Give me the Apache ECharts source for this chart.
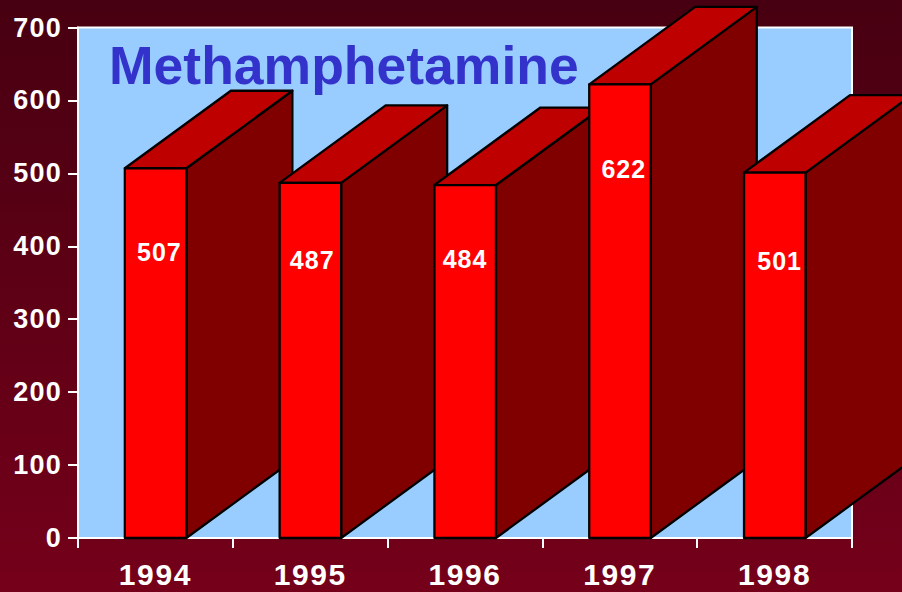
<!DOCTYPE html>
<html><head><meta charset="utf-8">
<style>
html,body{margin:0;padding:0;background:#5a0014}
#c{width:902px;height:592px;letter-spacing:1px}
#c text[style*="30px"]{letter-spacing:1.6px}
#c text[style*="27px"]{letter-spacing:1.2px}
#c text[style*="25px"]{letter-spacing:1px}
#c text[style*="53.5px"]{letter-spacing:0}
</style>
<script src="https://cdn.jsdelivr.net/npm/echarts@6/dist/echarts.min.js"></script>
</head><body><div id="c"></div>
<script>
const titleText = 'Methamphetamine';
const categories = ['1994','1995','1996','1997','1998'];
const values = [507,487,484,622,501];
const yTicks = [0,100,200,300,400,500,600,700];

// style / layout constants
const DEPTH_X = 106, DEPTH_Y = 77.5, BAR_RATIO = 0.4;
const labelShift = [[4,84],[2,77],[0,74],[4,85],[5,88]];
const FONT = '"Liberation Sans", Arial, sans-serif';

const chart = echarts.init(document.getElementById('c'), null, {renderer:'svg', width:902, height:592});

function renderBar(params, api){
  const i = api.value(0), v = api.value(1);
  const top = api.coord([i, v]), base = api.coord([i, 0]);
  const w = api.size([1,0])[0]*BAR_RATIO;
  const l = top[0]-w/2+0.4, r = top[0]+w/2, t = top[1], b = base[1];
  const line = {stroke:'#000', lineWidth:2.3, lineJoin:'round'};
  const shift = labelShift[params.dataIndex];
  return {type:'group', children:[
    {type:'polygon', shape:{points:[[r,b],[r+DEPTH_X,b-DEPTH_Y],[r+DEPTH_X,t-DEPTH_Y],[r,t]]},
      style:Object.assign({fill:'#800000'},line)},
    {type:'polygon', shape:{points:[[l,t],[l+DEPTH_X,t-DEPTH_Y],[r+DEPTH_X,t-DEPTH_Y],[r,t]]},
      style:Object.assign({fill:'#bf0000'},line)},
    {type:'rect', shape:{x:l,y:t,width:r-l,height:b-t},
      style:Object.assign({fill:'#ff0000'},line)},
    {type:'text', style:{text:String(v), x:top[0]+shift[0], y:t+shift[1],
      fill:'#fff', font:'bold 25px '+FONT, textAlign:'center', textVerticalAlign:'middle'}}
  ]};
}

chart.setOption({
  animation:false,
  backgroundColor:new echarts.graphic.LinearGradient(0,0,0,1,[
    {offset:0,color:'#470011'},{offset:1,color:'#75001a'}]),
  title:{text:titleText,left:109,top:38,padding:0,
    textStyle:{color:'#3333cc',fontFamily:FONT,fontWeight:'bold',fontSize:53.5}},
  grid:{left:78,right:50,top:27.5,bottom:54,show:true,backgroundColor:'#99ccff',
    borderColor:'#fff',borderWidth:2},
  xAxis:{type:'category',data:categories,boundaryGap:true,
    axisLine:{lineStyle:{color:'#fff',width:2}},
    axisTick:{show:true,length:10,alignWithLabel:false,lineStyle:{color:'#fff',width:2}},
    axisLabel:{color:'#fff',fontFamily:FONT,fontWeight:'bold',fontSize:30,margin:21},
    splitLine:{show:false}},
  yAxis:{type:'value',min:0,max:700,interval:100,
    axisLine:{show:true,lineStyle:{color:'#fff',width:2}},
    axisTick:{show:true,length:10,lineStyle:{color:'#fff',width:2}},
    axisLabel:{color:'#fff',fontFamily:FONT,fontWeight:'bold',fontSize:27,margin:16,
      formatter:v=>yTicks.includes(v)?String(v):''},
    splitLine:{show:false}},
  series:[{type:'custom',renderItem:renderBar,clip:false,z:5,
    encode:{x:0,y:1},data:values.map((v,i)=>[i,v])}]
});
</script></body></html>
